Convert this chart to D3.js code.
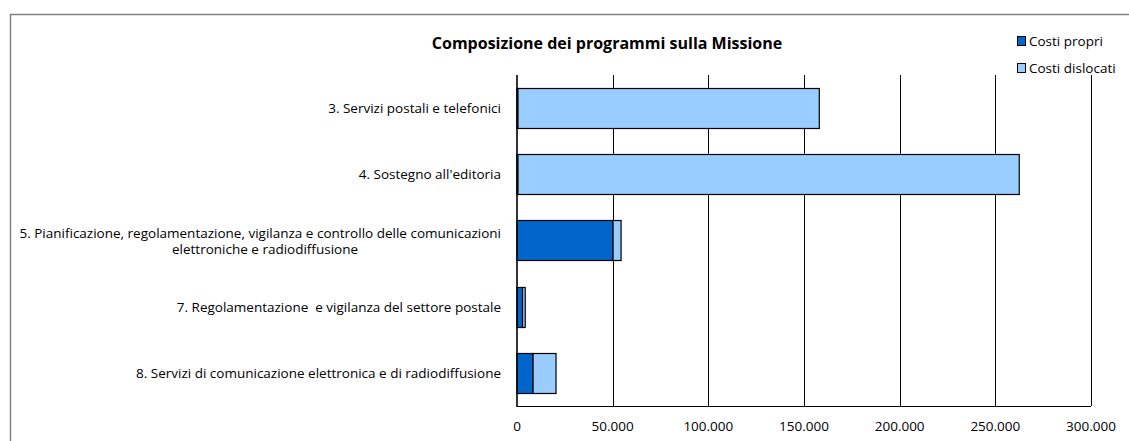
<!DOCTYPE html>
<html>
<head>
<meta charset="utf-8">
<script src="https://cdn.jsdelivr.net/npm/d3@7"></script>
<style>
  body { margin: 0; background: #fff; }
  svg { display: block; }
  text { font-family: "Open Sans", sans-serif; fill: #000; white-space: pre; }
</style>
</head>
<body>
<svg width="1129" height="441"></svg>
<script>
// programmi (one entry per row; lines split for the long label)
var programmi = [
  ["3. Servizi postali e telefonici"],
  ["4. Sostegno all'editoria"],
  ["5. Pianificazione, regolamentazione, vigilanza e controllo delle comunicazioni", "elettroniche e radiodiffusione"],
  ["7. Regolamentazione  e vigilanza del settore postale"],
  ["8. Servizi di comunicazione elettronica e di radiodiffusione"]
];
var costiPropri    = [500, 500, 50200, 2900, 8400];
var costiDislocati = [157500, 262000, 4200, 1400, 12000];
var serie = ["Costi propri", "Costi dislocati"];
var colori = ["#0066CC", "#99CCFF"];
var xTicks = [0, 50000, 100000, 150000, 200000, 250000, 300000];

var svg = d3.select("svg"),
  width = +svg.attr("width"),
  height = +svg.attr("height");

var plotLeft = 517, plotRight = 1091, plotTop = 75, plotBottom = 406;

var locale = d3.formatLocale({decimal: ",", thousands: ".", grouping: [3], currency: ["", "€"]});
var fmt = locale.format(",");

// outer frame of the chart
svg.append("path")
  .attr("d", "M10.5," + height + "V14.5H" + width)
  .attr("fill", "none")
  .attr("stroke", "#7f7f7f")
  .attr("stroke-width", 1.5);

var x = d3.scaleLinear().domain([0, 300000]).range([plotLeft, plotRight]);
var y = d3.scaleBand()
  .domain(d3.range(programmi.length))
  .range([plotTop, plotBottom])
  .paddingInner(0.394)
  .paddingOuter(0.197);

// gridlines
svg.append("g")
  .attr("class", "grid")
  .selectAll("line")
  .data(xTicks.slice(1))
  .enter().append("line")
  .attr("x1", d => Math.round(x(d)) + 0.5)
  .attr("x2", d => Math.round(x(d)) + 0.5)
  .attr("y1", plotTop)
  .attr("y2", plotBottom)
  .attr("stroke", "#000")
  .attr("stroke-width", 1);

var righe = programmi.map(function(p, i) {
  return {i: i, propri: costiPropri[i], dislocati: costiDislocati[i]};
});
var stack = d3.stack().keys(["propri", "dislocati"]);
var layers = stack(righe);

svg.append("g")
  .selectAll("g")
  .data(layers)
  .enter().append("g")
  .attr("fill", (d, k) => colori[k])
  .selectAll("rect")
  .data(d => d)
  .enter().append("rect")
  .attr("x", d => x(d[0]))
  .attr("y", d => Math.round(y(d.data.i)) + 0.5)
  .attr("width", d => x(d[1]) - x(d[0]))
  .attr("height", Math.round(y.bandwidth()))
  .attr("stroke", "#000")
  .attr("stroke-width", 1.2);

// axis lines
svg.append("line")
  .attr("x1", plotLeft).attr("x2", plotRight)
  .attr("y1", plotBottom + 0.5).attr("y2", plotBottom + 0.5)
  .attr("stroke", "#000").attr("stroke-width", 1.2);
svg.append("line")
  .attr("x1", plotLeft).attr("x2", plotLeft)
  .attr("y1", plotTop).attr("y2", plotBottom + 1)
  .attr("stroke", "#000").attr("stroke-width", 1.6);

// x tick labels
svg.append("g")
  .selectAll("text")
  .data(xTicks)
  .enter().append("text")
  .attr("x", d => x(d))
  .attr("y", 431)
  .attr("text-anchor", "middle")
  .attr("font-size", 13.5)
  .text(d => fmt(d));

// category labels
var cat = svg.append("g")
  .selectAll("text")
  .data(programmi)
  .enter().append("text")
  .attr("text-anchor", "end")
  .attr("font-size", 13.5)
  .attr("x", 501)
  .attr("y", (d, i) => y(i) + y.bandwidth() / 2 - (d.length - 1) * 8 + 5);
cat.each(function(d) {
  var t = d3.select(this);
  d.forEach(function(riga, j) {
    t.append("tspan")
      .attr("x", d.length > 1 && j > 0 ? 265 : 501)
      .attr("text-anchor", d.length > 1 && j > 0 ? "middle" : null)
      .attr("dy", j === 0 ? 0 : 16)
      .text(riga);
  });
});

// title
svg.append("text")
  .attr("x", 607)
  .attr("y", 49)
  .attr("text-anchor", "middle")
  .attr("font-size", 16)
  .attr("font-weight", "bold")
  .text("Composizione dei programmi sulla Missione");

// legend
var leg = svg.append("g")
  .selectAll("g")
  .data(serie)
  .enter().append("g")
  .attr("transform", (d, k) => "translate(1017," + (36 + k * 27) + ")");
leg.append("rect")
  .attr("x", 0.5).attr("y", 0.5)
  .attr("width", 8).attr("height", 9)
  .attr("fill", (d, k) => colori[k])
  .attr("stroke", "#000");
leg.append("text")
  .attr("x", 12)
  .attr("y", 9.5)
  .attr("font-size", 13.5)
  .text(d => d);
</script>
</body>
</html>
